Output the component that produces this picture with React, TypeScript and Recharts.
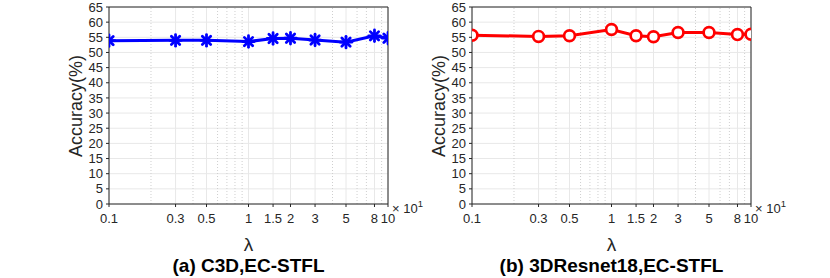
import React from "react";
import {
  LineChart,
  Line,
  XAxis,
  YAxis,
  CartesianGrid,
  ReferenceLine,
} from "recharts";

const lambdas = [0.1, 0.3, 0.5, 1, 1.5, 2, 3, 5, 8, 10];
const c3dAcc = [53.9, 54.0, 54.0, 53.6, 54.6, 54.7, 54.1, 53.4, 55.5, 54.7];
const resnetAcc = [55.7, 55.3, 55.5, 57.6, 55.5, 55.2, 56.6, 56.6, 55.9, 56.0];
const xTicks = [0.1, 0.3, 0.5, 1, 1.5, 2, 3, 5, 8, 10];
const xMinor = [0.2, 0.4, 0.6, 0.7, 0.8, 0.9, 4, 6, 7, 9];
const yTicks = [0, 5, 10, 15, 20, 25, 30, 35, 40, 45, 50, 55, 60, 65];

const FONT = "'Liberation Sans', Arial, Helvetica, sans-serif";
const TEXT = "#262626";
const W = 440;
const H = 278;

const Star = (props: any) => {
  const { cx, cy } = props;
  if (cx == null || cy == null) return null;
  const r = 5.8;
  const d = r * 0.72;
  return (
    <g stroke="#0000ff" strokeWidth={2.8} strokeLinecap="round">
      <line x1={cx - r} y1={cy} x2={cx + r} y2={cy} />
      <line x1={cx} y1={cy - r} x2={cx} y2={cy + r} />
      <line x1={cx - d} y1={cy - d} x2={cx + d} y2={cy + d} />
      <line x1={cx - d} y1={cy + d} x2={cx + d} y2={cy - d} />
    </g>
  );
};

const Ring = (props: any) => {
  const { cx, cy } = props;
  if (cx == null || cy == null) return null;
  return <circle cx={cx} cy={cy} r={5.4} fill="#fff" stroke="#ff0000" strokeWidth={2.7} />;
};

function Panel({
  left,
  values,
  color,
  dot,
  title,
}: {
  left: number;
  values: number[];
  color: string;
  dot: any;
  title: string;
}) {
  const data = lambdas.map((x, i) => ({ x, y: values[i] }));
  const plotLeft = 109;
  const plotRight = 388;
  return (
    <div style={{ position: "absolute", left, top: 0, width: W, height: H }}>
      <LineChart
        width={W}
        height={H}
        data={data}
        margin={{ top: 7, right: W - plotRight, bottom: 0, left: 0 }}
      >
        <CartesianGrid stroke="#e8e8e8" strokeWidth={1} />
        {xMinor.map((m) => (
          <ReferenceLine
            key={m}
            x={m}
            stroke="#cfcfcf"
            strokeDasharray="1 2"
            ifOverflow="hidden"
          />
        ))}
        <XAxis
          dataKey="x"
          type="number"
          scale="log"
          domain={[0.1, 10]}
          ticks={xTicks}
          allowDataOverflow
          height={74}
          interval={0}
          tickSize={3}
          tickLine={{ stroke: "#262626" }}
          axisLine={{ stroke: "#262626" }}
          tick={{ fill: TEXT, fontSize: 13, fontFamily: FONT, dy: 5 }}
          tickFormatter={(v: number) => String(v)}
        />
        <YAxis
          type="number"
          domain={[0, 65]}
          ticks={yTicks}
          width={plotLeft}
          interval={0}
          tickSize={3}
          tickLine={{ stroke: "#262626" }}
          axisLine={{ stroke: "#262626" }}
          tick={{ fill: TEXT, fontSize: 13, fontFamily: FONT, dx: -1 }}
        />
        <ReferenceLine y={65} stroke="#262626" ifOverflow="extendDomain" />
        <ReferenceLine x={10} stroke="#262626" ifOverflow="extendDomain" />
        <Line
          type="linear"
          dataKey="y"
          stroke={color}
          strokeWidth={3}
          dot={dot}
          activeDot={false}
          isAnimationActive={false}
        />
        <text
          x={76}
          y={106}
          transform="rotate(-90 76 106)"
          textAnchor="middle"
          dominantBaseline="central"
          fontSize={18}
          fontFamily={FONT}
          fill={TEXT}
        >
          Accuracy(%)
        </text>
        <text x={plotRight + 4} y={213} fontSize={13} fontFamily={FONT} fill={TEXT}>
          × 10
          <tspan fontSize={9.5} dy={-6}>
            1
          </tspan>
        </text>
        <text
          x={(plotLeft + plotRight) / 2}
          y={244}
          textAnchor="middle"
          dominantBaseline="central"
          fontSize={19}
          fontFamily={FONT}
          fill={TEXT}
        >
          λ
        </text>
        <text
          x={(plotLeft + plotRight) / 2}
          y={265}
          textAnchor="middle"
          dominantBaseline="central"
          fontSize={19}
          fontWeight="bold"
          fontFamily={FONT}
          fill="#000"
        >
          {title}
        </text>
      </LineChart>
    </div>
  );
}

export default function App() {
  return (
    <div
      style={{
        position: "absolute",
        left: 0,
        top: 0,
        width: 830,
        height: 278,
        background: "#fff",
        overflow: "hidden",
      }}
    >
      <Panel left={0} values={c3dAcc} color="#0000ff" dot={<Star />} title="(a) C3D,EC-STFL" />
      <Panel
        left={363}
        values={resnetAcc}
        color="#ff0000"
        dot={<Ring />}
        title="(b) 3DResnet18,EC-STFL"
      />
    </div>
  );
}
